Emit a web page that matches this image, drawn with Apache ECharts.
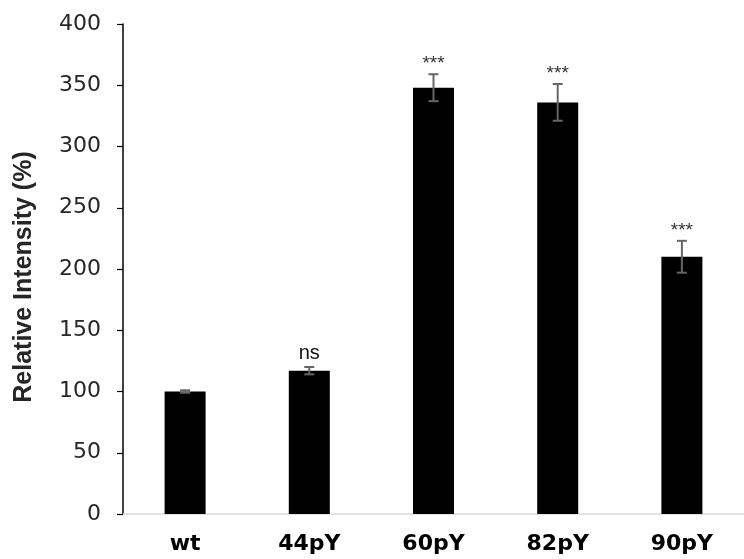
<!DOCTYPE html>
<html>
<head>
<meta charset="utf-8">
<script src="https://cdn.jsdelivr.net/npm/echarts@6/dist/echarts.min.js"></script>
<style>
html,body{margin:0;padding:0;background:#fff;overflow:hidden;}
#chart{width:744px;height:559px;}
</style>
</head>
<body>
<div id="chart"></div>
<script>
const categories = ['wt', '44pY', '60pY', '82pY', '90pY'];
const values = [100, 117, 348, 336, 210];
const errors = [1, 3, 11, 15, 13];
const significance = ['', 'ns', '***', '***', '***'];
const yTicks = [0, 50, 100, 150, 200, 250, 300, 350, 400];

const chart = echarts.init(document.getElementById('chart'));
const fontA = '"Liberation Sans", Arial, sans-serif';
const fontD = '"DejaVu Sans", sans-serif';

const errData = categories.map((c, i) => [i, values[i], errors[i]]);

chart.setOption({
  animation: false,
  backgroundColor: '#fff',
  grid: { left: 123, top: 24, width: 630, height: 490, containLabel: false },
  xAxis: {
    type: 'category',
    data: categories,
    axisLine: { show: true, lineStyle: { color: '#d9d9d9', width: 1.5 } },
    axisTick: { show: false },
    axisLabel: { color: '#000', fontFamily: fontD, fontSize: 22, fontWeight: 'bold', margin: 19 }
  },
  yAxis: {
    type: 'value',
    min: yTicks[0],
    max: yTicks[yTicks.length - 1],
    interval: 50,
    name: 'Relative Intensity (%)',
    nameLocation: 'middle',
    nameGap: 86,
    nameTextStyle: { color: '#262626', fontFamily: fontA, fontSize: 25, fontWeight: 'bold', padding: [0, 0, 0, -16] },
    splitLine: { show: false },
    axisLine: { show: true, lineStyle: { color: '#000', width: 1.5 } },
    axisTick: { show: true, length: 6, lineStyle: { color: '#000', width: 1.2 } },
    axisLabel: { color: '#262626', fontFamily: fontD, fontSize: 22, margin: 22 }
  },
  series: [
    {
      type: 'bar',
      data: values,
      barWidth: 41,
      itemStyle: { color: '#000' },
      silent: true
    },
    {
      type: 'custom',
      data: errData,
      silent: true,
      z: 5,
      renderItem: function (params, api) {
        const x = api.value(0);
        const v = api.value(1);
        const e = api.value(2);
        const sig = significance[params.dataIndex];
        const top = api.coord([x, v + e]);
        const bot = api.coord([x, v - e]);
        const hw = 5;
        const style = { stroke: '#666', lineWidth: 2 };
        const children = [
          { type: 'line', shape: { x1: top[0], y1: top[1], x2: bot[0], y2: bot[1] }, style: style },
          { type: 'line', shape: { x1: top[0] - hw, y1: top[1], x2: top[0] + hw, y2: top[1] }, style: style },
          { type: 'line', shape: { x1: bot[0] - hw, y1: bot[1], x2: bot[0] + hw, y2: bot[1] }, style: style }
        ];
        if (sig) {
          const isStars = sig.indexOf('*') >= 0;
          children.push({
            type: 'text',
            style: {
              text: sig,
              x: top[0],
              y: top[1] - (isStars ? 10 : 14),
              align: 'center',
              verticalAlign: 'middle',
              fill: isStars ? '#333' : '#111',
              font: (isStars ? '19px ' : '20px ') + fontA
            }
          });
        }
        return { type: 'group', children: children };
      }
    }
  ]
});
</script>
</body>
</html>
